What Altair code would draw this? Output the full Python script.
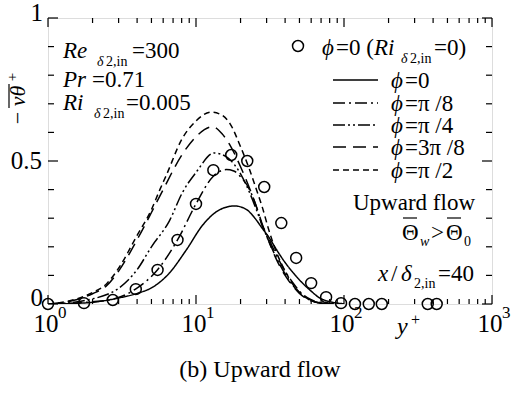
import altair as alt
import pandas as pd

# ---------------------------------------------------------------- data
# Ri = 0 reference profile (open circles)
ri0_yplus = [1, 1.75, 2.74, 3.92, 5.5, 7.5, 10, 13.1, 17.3, 22.2, 28.9, 37.7,
             47.5, 60, 75.7, 95.5, 118.6, 147, 180, 368, 423]
ri0_val = [0, 0.003, 0.014, 0.052, 0.119, 0.224, 0.35, 0.468, 0.521, 0.50,
           0.409, 0.283, 0.161, 0.073, 0.024, 0.003, 0, 0, 0, 0, 0]

# phi = 0
phi0_yplus = [1, 1.5, 2, 3, 4, 5.1, 6.6, 8.6, 11.1, 14.4, 18.2, 22, 25, 28,
              31, 36, 40, 47, 52, 60, 68, 80, 100]
phi0_val = [0, 0.002, 0.006, 0.021, 0.037, 0.059, 0.108, 0.189, 0.276, 0.329,
            0.343, 0.33, 0.30, 0.265, 0.234, 0.18, 0.145, 0.10, 0.075, 0.045,
            0.022, 0.008, 0.001]

# phi = pi/8
phi1_yplus = [1, 1.5, 2, 2.7, 3.9, 5.5, 7.5, 10, 13, 16, 18, 20, 23, 26, 28,
              30, 35, 40, 45, 50, 60, 70, 85]
phi1_val = [0, 0.003, 0.008, 0.016, 0.052, 0.12, 0.224, 0.35, 0.445, 0.47,
            0.465, 0.445, 0.40, 0.33, 0.275, 0.245, 0.17, 0.115, 0.075, 0.045,
            0.015, 0.004, 0]

# phi = pi/4
phi2_yplus = [1, 1.5, 2, 2.5, 3, 4, 5, 6.6, 8.1, 10, 13.3, 16, 18, 20, 23, 26,
              28, 31, 35, 40, 45, 50, 60, 70, 85]
phi2_val = [0, 0.006, 0.018, 0.033, 0.055, 0.12, 0.2, 0.29, 0.39, 0.46, 0.528,
            0.515, 0.49, 0.455, 0.39, 0.32, 0.275, 0.22, 0.16, 0.105, 0.066,
            0.04, 0.012, 0.003, 0]

# phi = 3pi/8
phi3_yplus = [1, 1.5, 2, 2.5, 3, 4, 5, 6, 8, 10, 12.9, 15, 17, 20, 23, 26, 28,
              31, 35, 40, 45, 50, 60, 70, 85]
phi3_val = [0, 0.013, 0.036, 0.065, 0.115, 0.225, 0.32, 0.40, 0.52, 0.585,
            0.62, 0.595, 0.555, 0.48, 0.405, 0.33, 0.28, 0.22, 0.155, 0.10,
            0.063, 0.037, 0.011, 0.003, 0]

# phi = pi/2
phi4_yplus = [1, 1.5, 2, 2.5, 3, 4, 5, 5.7, 6.3, 8, 10, 12.7, 15, 17, 20, 23,
              26, 28, 31, 35, 40, 45, 50, 60, 70, 85]
phi4_val = [0, 0.015, 0.04, 0.072, 0.125, 0.24, 0.33, 0.40, 0.45, 0.575, 0.64,
            0.671, 0.66, 0.63, 0.55, 0.47, 0.39, 0.34, 0.26, 0.18, 0.115,
            0.07, 0.04, 0.012, 0.003, 0]

series_names = ["phi=0", "phi=pi/8", "phi=pi/4", "phi=3pi/8", "phi=pi/2"]
series_x = [phi0_yplus, phi1_yplus, phi2_yplus, phi3_yplus, phi4_yplus]
series_y = [phi0_val, phi1_val, phi2_val, phi3_val, phi4_val]
series_dash = [[1, 0], [12, 4, 2, 4], [12, 3, 2, 3, 2, 3], [13, 7], [6, 4]]

# axis ticks and labels
x_major = [1, 10, 100, 1000]
x_minor = [m * d for d in (1, 10, 100) for m in range(2, 10)]
x_exp = ["0", "1", "2", "3"]
y_major = [0, 0.5, 1]
y_minor = [0.1, 0.2, 0.3, 0.4, 0.6, 0.7, 0.8, 0.9]

# ---------------------------------------------------------------- layout
SERIF = "'Liberation Serif', 'Times New Roman', 'DejaVu Serif', serif"
OX, OY = 48, 18          # plot origin inside the page
W, H = 444, 286          # plot area

xs = alt.Scale(type="log", domain=[1, 1000], nice=False)
ys = alt.Scale(domain=[0, 1], nice=False, zero=False)

one = alt.Data(values=[{}])


def label(s, x, y, size=23, italic=False, align="left", angle=0):
    """Free text placed in page coordinates."""
    return alt.Chart(one).mark_text(
        font=SERIF, fontSize=size, fontStyle="italic" if italic else "normal",
        align=align, baseline="alphabetic", angle=angle, color="black",
    ).encode(x=alt.value(x - OX), y=alt.value(y - OY), text=alt.value(s))


def hline(x0, x1, y, dash=None, width=1.3):
    mk = dict(color="black", strokeWidth=width)
    if dash is not None:
        mk["strokeDash"] = dash
    return alt.Chart(one).mark_rule(**mk).encode(
        x=alt.value(x0 - OX), x2=alt.value(x1 - OX), y=alt.value(y - OY))


def vline(x, y0, y1, width=1.3):
    return alt.Chart(one).mark_rule(color="black", strokeWidth=width).encode(
        x=alt.value(x - OX), y=alt.value(y0 - OY), y2=alt.value(y1 - OY))


# ---------------------------------------------------------------- curves
rows = []
for name, xv, yv in zip(series_names, series_x, series_y):
    for a, b in zip(xv, yv):
        rows.append({"series": name, "yplus": a, "val": b})
curves = pd.DataFrame(rows)

lines = alt.Chart(curves).mark_line(
    color="black", strokeWidth=1.5, interpolate="monotone", clip=True
).encode(
    x=alt.X("yplus:Q", scale=xs, axis=None),
    y=alt.Y("val:Q", scale=ys, axis=None),
    strokeDash=alt.StrokeDash("series:N", scale=alt.Scale(domain=series_names, range=series_dash), legend=None),
    detail="series:N",
)

circ = pd.DataFrame({"yplus": ri0_yplus, "val": ri0_val})
circles = alt.Chart(circ).mark_point(
    shape="circle", filled=False, color="black", size=120, strokeWidth=1.5, opacity=1
).encode(x=alt.X("yplus:Q", scale=xs, axis=None), y=alt.Y("val:Q", scale=ys, axis=None))

# ---------------------------------------------------------------- ticks (inward)
def xticks(vals, length, top):
    df = pd.DataFrame({"t": vals})
    y0, y1 = (0, length) if top else (H, H - length)
    return alt.Chart(df).mark_rule(color="black", strokeWidth=1.2).encode(
        x=alt.X("t:Q", scale=xs, axis=None), y=alt.value(y0), y2=alt.value(y1))


def yticks(vals, length, right):
    df = pd.DataFrame({"t": vals})
    x0, x1 = (W, W - length) if right else (0, length)
    return alt.Chart(df).mark_rule(color="black", strokeWidth=1.2).encode(
        y=alt.Y("t:Q", scale=ys, axis=None), x=alt.value(x0), x2=alt.value(x1))


ticks = [
    xticks(x_major, 9, False), xticks(x_minor, 5, False),
    xticks(x_major, 9, True), xticks(x_minor, 5, True),
    yticks(y_major, 10, False), yticks(y_minor, 6, False),
    yticks(y_major, 10, True), yticks(y_minor, 6, True),
]

# tick labels
xl = pd.DataFrame({"t": x_major, "e": x_exp})
x_base = alt.Chart(xl).mark_text(
    font=SERIF, fontSize=25, align="center", baseline="alphabetic", dx=-2, color="black"
).encode(x=alt.X("t:Q", scale=xs, axis=None), y=alt.value(332 - OY), text=alt.value("10"))
x_sup = alt.Chart(xl).mark_text(
    font=SERIF, fontSize=17, align="left", baseline="alphabetic", dx=10, color="black"
).encode(x=alt.X("t:Q", scale=xs, axis=None), y=alt.value(318 - OY), text="e:N")


def ylab(v, s, dy, right_edge):
    df = pd.DataFrame({"t": [v], "s": [s]})
    return alt.Chart(df).mark_text(
        font=SERIF, fontSize=25, align="right", baseline="alphabetic", dy=dy, color="black"
    ).encode(x=alt.value(right_edge - OX), y=alt.Y("t:Q", scale=ys, axis=None), text="s:N")


ylabels = [ylab(1, "1", 3, 43), ylab(0.5, "0.5", 8, 42), ylab(0, "0", 2, 43)]

# axis titles
titles = [
    label("y", 397, 334, size=24, italic=True),
    label("+", 411, 325, size=16),
    label("\u2212", 25, 118, size=22, angle=270, align="center"),
    label("v\u03b8", 25, 96, size=22, italic=True, angle=270, align="center"),
    label("+", 17, 77, size=15, angle=270, align="center"),
    vline(9, 84, 108, width=1.2),
]

# ---------------------------------------------------------------- annotations
notes = [
    label("Re", 63, 58, italic=True), label("\u03b4", 97, 66, size=14, italic=True),
    label("2,in", 106, 66, size=14), label("=300", 132, 58),
    label("Pr", 63, 87, italic=True), label("=0.71", 92, 87),
    label("Ri", 63, 110, italic=True), label("\u03b4", 94, 118, size=14, italic=True),
    label("2,in", 103, 118, size=14), label("=0.005", 126, 110),

    label("Upward flow", 475, 210, align="right"),
    label("\u0398", 402, 240), label("w", 420, 246, size=14, italic=True),
    label(">", 431, 240), label("\u0398", 446, 240), label("0", 464, 246, size=14),
    hline(403, 417, 218, width=1.2), hline(447, 461, 218, width=1.2),

    label("x", 378, 281, italic=True), label("/", 391, 281),
    label("\u03b4", 401, 281, italic=True), label("2,in", 414, 288, size=14),
    label("=40", 438, 281),

    label("(b) Upward flow", 260, 377, size=24, align="center"),
]

# ---------------------------------------------------------------- legend
legend_marker = alt.Chart(one).mark_point(
    shape="circle", filled=False, color="black", size=120, strokeWidth=1.5, opacity=1
).encode(x=alt.value(298 - OX), y=alt.value(46 - OY))

legend = [
    legend_marker,
    label("\u03d5", 322, 55, italic=True), label("=0 (", 336, 55),
    label("Ri", 374, 55, italic=True), label("\u03b4", 401, 63, size=14, italic=True),
    label("2,in", 410, 63, size=14), label("=0)", 434, 55),
]
legend_rows = [80, 103, 125, 147, 170]
legend_text = ["=0", "=\u03c0 /8", "=\u03c0 /4", "=3\u03c0 /8", "=\u03c0 /2"]
for yrow, dash, txt in zip(legend_rows, series_dash, legend_text):
    legend.append(hline(333, 378, yrow, dash=dash, width=1.5))
    legend.append(label("\u03d5", 391, yrow + 8, italic=True))
    legend.append(label(txt, 405, yrow + 8))

chart = alt.layer(
    lines, circles, *ticks, x_base, x_sup, *ylabels, *titles, *notes, *legend
).properties(
    width=W, height=H,
    padding={"left": OX, "top": OY, "right": 517 - OX - W, "bottom": 394 - OY - H},
    autosize=alt.AutoSizeParams(type="none"),
).configure_view(
    stroke="black", strokeWidth=1.6
).configure(background="white")

chart.save("out.html", embed_options={"renderer": "svg", "actions": False})
